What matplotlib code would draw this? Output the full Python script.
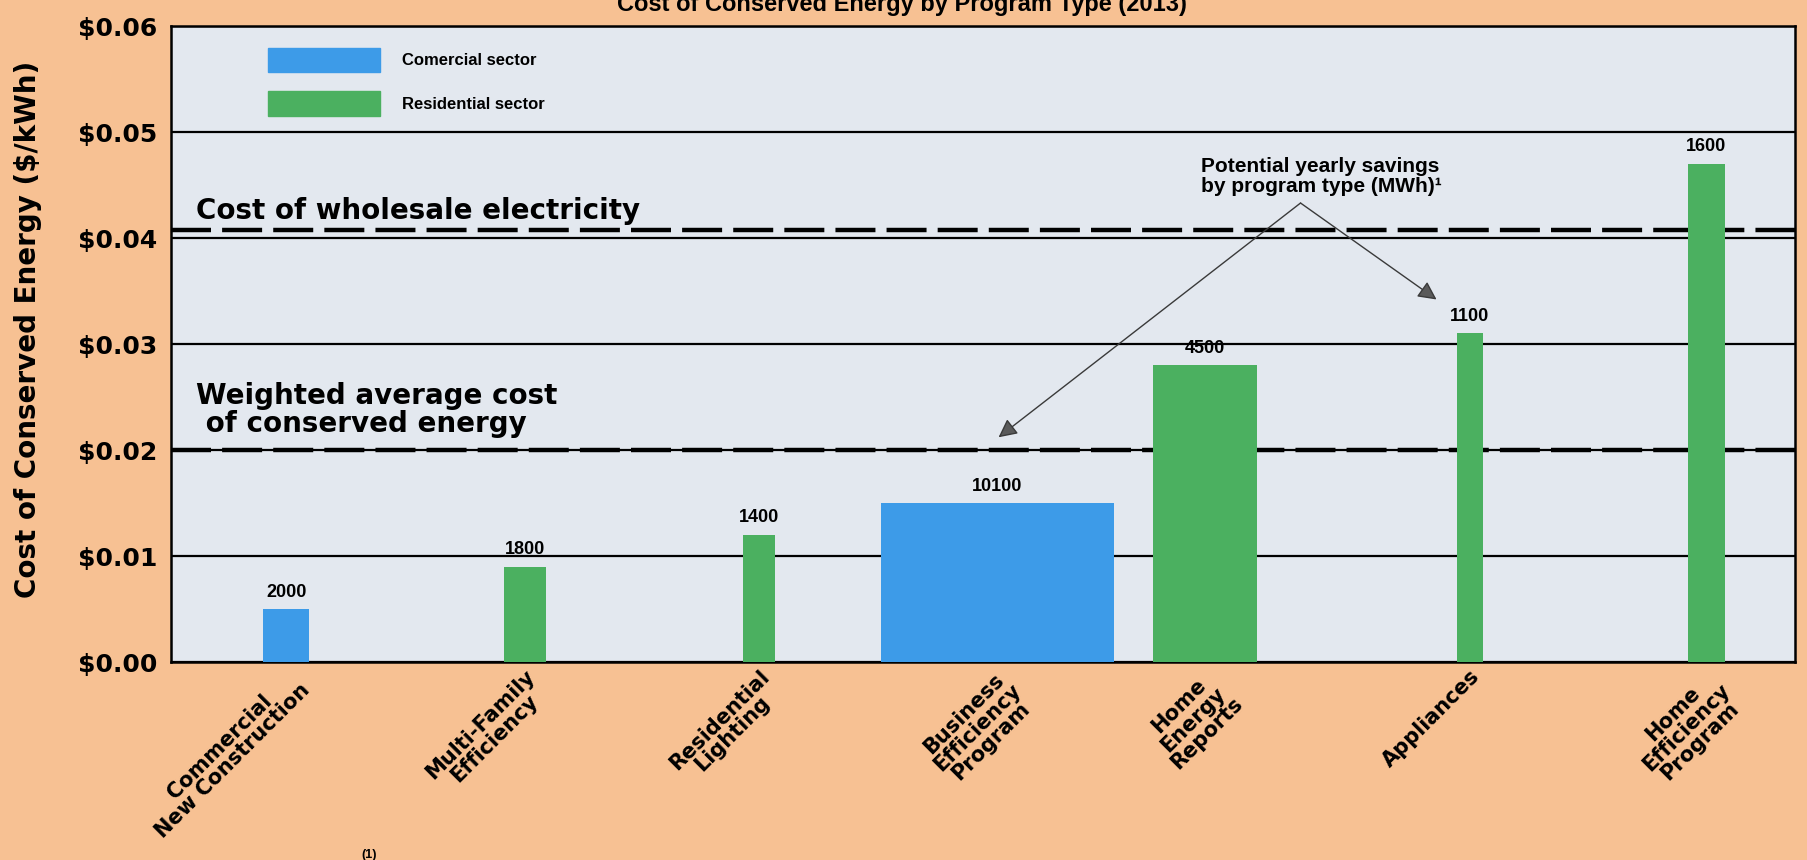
import matplotlib.pyplot as plt
from matplotlib.patches import Patch

# data
programs = ["Commercial\nNew Construction", "Multi-Family\nEfficiency", "Residential\nLighting",
            "Business\nEfficiency\nProgram", "Home\nEnergy\nReports", "Appliances",
            "Home\nEfficiency\nProgram"]
sector = ["Comercial", "Residential", "Residential", "Comercial",
          "Residential", "Residential", "Residential"]
cost = [0.005, 0.009, 0.012, 0.015, 0.028, 0.031, 0.047]
savings = [2000, 1800, 1400, 10100, 4500, 1100, 1600]   # MWh, also bar width
wholesale = 0.0408
weighted_avg = 0.020

# layout: bar centres along an x axis measured in MWh
centers = [5000, 15350, 25500, 35850, 44850, 56350, 66600]
x_max = 70450

colors = {"Comercial": "#3d9be8", "Residential": "#4bb060"}
bg = "#f7c193"

plt.rcParams['font.family'] = ['Liberation Sans', 'DejaVu Sans']
wide = ['DejaVu Sans']

fig = plt.figure(figsize=(18.08, 8.6), dpi=100, facecolor=bg)
ax = fig.add_axes([171 / 1808, 1 - 662 / 860, 1624 / 1808, 636 / 860])
ax.set_facecolor("#e3e8ef")

ax.bar(centers, cost, width=savings, color=[colors[s] for s in sector], zorder=3)

for c, v, s in zip(centers, cost, savings):
    ax.annotate(str(s), (c, v), xytext=(0, 6), textcoords='offset points',
                ha='center', va='bottom', fontsize=13, fontweight='bold', zorder=4)

ax.set_xlim(0, x_max)
ax.set_ylim(0, 0.06)
ax.set_yticks([0, 0.01, 0.02, 0.03, 0.04, 0.05, 0.06])
ax.set_yticklabels(["$%.2f" % t for t in ax.get_yticks()], fontsize=18,
                   fontweight='bold', family=wide)
ax.yaxis.grid(True, color='black', lw=1.6, zorder=1)
ax.tick_params(axis='y', length=0, pad=10)
ax.tick_params(axis='x', length=0, pad=3)

ax.set_xticks(centers)
ax.set_xticklabels(programs, rotation=45, ha='right', va='top', rotation_mode='anchor',
                   multialignment='center', fontsize=15, fontweight='bold',
                   family=wide, linespacing=0.95)

for sp in ax.spines.values():
    sp.set_linewidth(1.8)
    sp.set_color('black')

# reference lines
ax.axhline(wholesale, color='black', lw=3.2, dashes=(9, 2.5), zorder=2)
ax.axhline(weighted_avg, color='black', lw=3.2, dashes=(9, 2.5), zorder=2)

ax.text(1100, 0.0418, "Cost of wholesale electricity", fontsize=20, fontweight='bold',
        family=wide, va='baseline', zorder=4)
ax.text(1100, 0.0217, "Weighted average cost\n of conserved energy", fontsize=20,
        fontweight='bold', family=wide, va='baseline', linespacing=1.0, zorder=4)
ax.text(44700, 0.0443, "Potential yearly savings\nby program type (MWh)\u00b9", fontsize=15,
        fontweight='bold', va='baseline', linespacing=1.1, zorder=4)

apex = (49000, 0.0433)
for end in [(35900, 0.0212), (54900, 0.0342)]:
    ax.annotate("", xy=end, xytext=apex,
                arrowprops=dict(arrowstyle='-|>', color='#3a3a3a', lw=1.0,
                                mutation_scale=28, fc='#5a5a5a', shrinkA=0, shrinkB=0),
                zorder=5)

leg = ax.legend(handles=[Patch(color=colors["Comercial"], label="Comercial sector"),
                         Patch(color=colors["Residential"], label="Residential sector")],
                loc='upper left', bbox_to_anchor=(0.060, 0.966), frameon=False,
                prop=dict(weight='bold', size=12),
                handlelength=6.7, handleheight=1.9, labelspacing=1.15,
                handletextpad=1.3, borderpad=0, borderaxespad=0)

fig.text(28 / 1808, 1 - 329 / 860, "Cost of Conserved Energy ($/kWh)", rotation=90,
         ha='center', va='center', fontsize=20, fontweight='bold', family=wide)
fig.text(902 / 1808, 1 - 11 / 860, "Cost of Conserved Energy by Program Type (2013)",
         ha='center', va='baseline', fontsize=17, fontweight='bold')
fig.text(369 / 1808, 1 - 858 / 860, "(1)", ha='center', va='baseline', fontsize=9,
         fontweight='bold')

fig.savefig("out.png", dpi=100, facecolor=bg)
